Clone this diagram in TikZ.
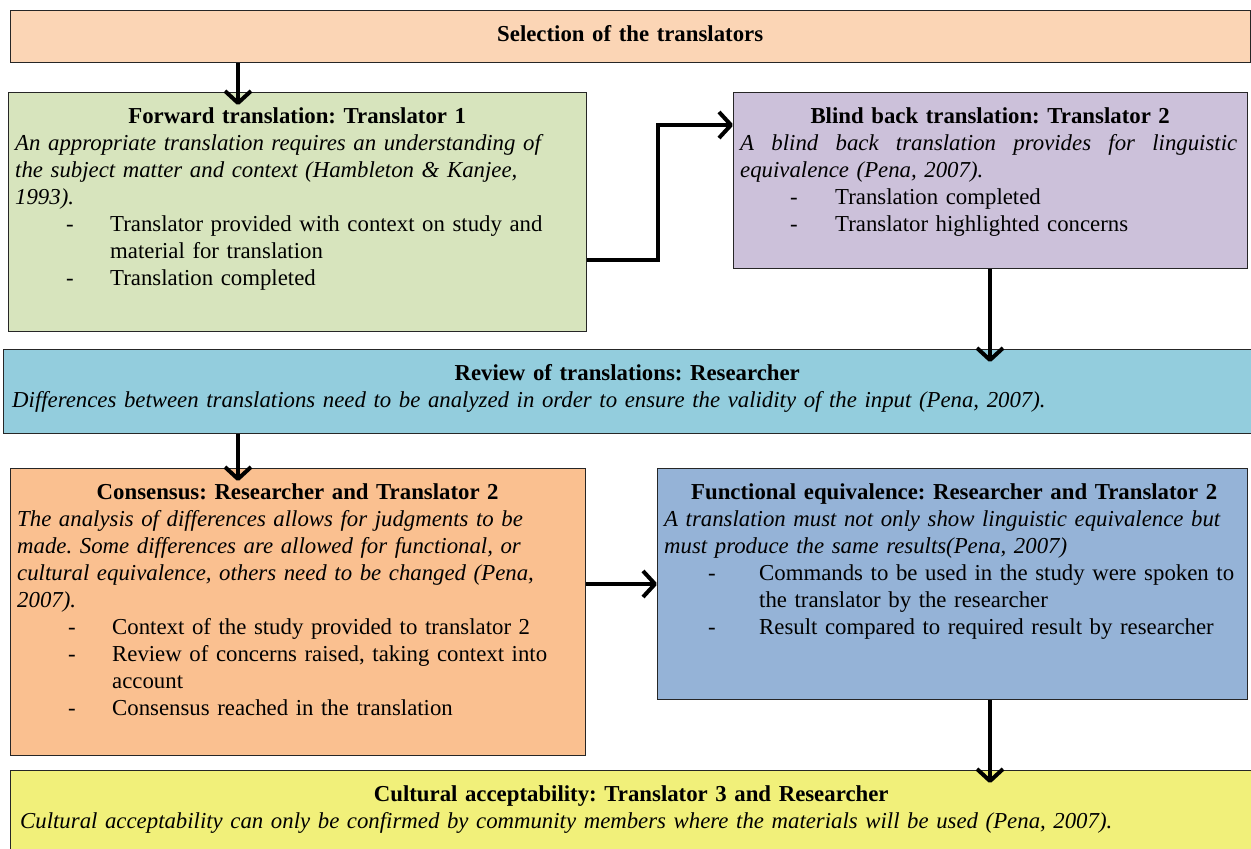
\documentclass[tikz,border=0pt]{standalone}
\usepackage{fontspec}
\setmainfont{Liberation Serif}
\usetikzlibrary{arrows.meta,calc}
\frenchspacing

\definecolor{selfill}{HTML}{FBD5B5}
\definecolor{fwdfill}{HTML}{D7E4BD}
\definecolor{blindfill}{HTML}{CCC1DA}
\definecolor{revfill}{HTML}{93CDDD}
\definecolor{consfill}{HTML}{FAC090}
\definecolor{funcfill}{HTML}{95B3D7}
\definecolor{cultfill}{HTML}{F1F07A}

% a list entry: dash, then text with a hanging indent
\newcommand\dashitem[2][51pt]{\par\hangindent=95pt\hangafter=1\noindent
  \hspace*{#1}\makebox[\dimexpr95pt-#1\relax][l]{-}#2}
\newcommand\boxtitle[1]{\centering\bfseries\strut #1\par\mdseries}
% a line whose word spaces stretch to the given width
\newcommand\fullline[2]{\hbox to #1{\spaceskip=0.25em plus 1fil\relax #2}}

\tikzset{
  box/.style={draw=black!85, line width=1.2pt, anchor=north west, inner sep=0pt},
  txt/.style={anchor=north west, inner sep=0pt,
    font=\fontsize{22.8}{27}\selectfont,
    execute at begin node={\parindent=0pt\parskip=0pt\frenchspacing\relax}},
  arr/.style={line width=4pt, -{Straight Barb[length=12pt,width=26pt,line join=round]}},
  dip/.style={shorten >=-13pt}
}

\begin{document}
\begin{tikzpicture}[x=1pt,y=-1pt]
\useasboundingbox (0,0) rectangle (1251,849);
\clip (0,0) rectangle (1251,849);

% boxes
\node[box, fill=selfill,  minimum width=1240pt, minimum height=52pt]  (sel)  at (10,10)  {};
\node[box, fill=fwdfill,  minimum width=578pt,  minimum height=239pt] (fwd)  at (8,92)   {};
\node[box, fill=blindfill,minimum width=514pt,  minimum height=176pt] (blind) at (733,92) {};
\node[box, fill=revfill,  minimum width=1248pt, minimum height=84pt]  (rev)  at (3,349)  {};
\node[box, fill=consfill, minimum width=575pt,  minimum height=287pt] (cons) at (10,468) {};
\node[box, fill=funcfill, minimum width=590pt,  minimum height=231pt] (func) at (657,468) {};
\node[box, fill=cultfill, minimum width=1260pt, minimum height=100pt] (cult) at (10,770) {};

% texts
\node[txt, text width=1220pt] (seltxt) at ($(sel.north west)+(10,12)$)
  {\boxtitle{Selection of the translators}};

\node[txt, text width=564pt] (fwdtxt) at ($(fwd.north west)+(7,12)$)
  {\boxtitle{Forward translation: Translator 1}
   \raggedright\itshape An appropriate translation requires an understanding of\newline
   the subject matter and context (Hambleton \& Kanjee,\newline 1993).\par\upshape
   \dashitem{Translator provided with context on study and\newline material for translation}
   \dashitem{Translation completed}};

\node[txt, text width=500pt] (blindtxt) at ($(blind.north west)+(7,12)$)
  {\boxtitle{Blind back translation: Translator 2}
   \raggedright\itshape
   \noindent\fullline{497pt}{A blind back translation provides for linguistic}\newline
   equivalence (Pena, 2007).\par\upshape
   \dashitem[50pt]{Translation completed}
   \dashitem[50pt]{Translator highlighted concerns}};

\node[txt, text width=1230pt] (revtxt) at ($(rev.north west)+(9,12)$)
  {\boxtitle{Review of translations: Researcher}
   \raggedright\itshape Differences between translations need to be analyzed in order to ensure the validity of the input (Pena, 2007).};

\node[txt, text width=561pt] (constxt) at ($(cons.north west)+(7,12)$)
  {\boxtitle{Consensus: Researcher and Translator 2}
   \raggedright\itshape The analysis of differences allows for judgments to be\newline
   made. Some differences are allowed for functional, or\newline
   cultural equivalence, others need to be changed (Pena,\newline 2007).\par\upshape
   \dashitem{Context of the study provided to translator 2}
   \dashitem{Review of concerns raised, taking context into\newline account}
   \dashitem{Consensus reached in the translation}};

\node[txt, text width=580pt] (functxt) at ($(func.north west)+(7,12)$)
  {\boxtitle{Functional equivalence: Researcher and Translator 2}
   \raggedright\itshape A translation must not only show linguistic equivalence but\newline
   must produce the same results(Pena, 2007)\par\upshape
   \dashitem[44pt]{Commands to be used in the study were spoken to\newline the translator by the researcher}
   \dashitem[44pt]{Result compared to required result by researcher}};

\node[txt, text width=1230pt] (culttxt) at ($(cult.north west)+(10,12)$)
  {\boxtitle{\hspace*{-8pt}Cultural acceptability: Translator 3 and Researcher}
   \raggedright\itshape Cultural acceptability can only be confirmed by community members where the materials will be used (Pena, 2007).};

% connectors
\coordinate (leftx)  at (238,0);
\coordinate (rightx) at (990,0);
\coordinate (elbowx) at (658,0);
\coordinate (lowy)   at (0,260);
\coordinate (highy)  at (0,125);
\coordinate (midy)   at (0,584);

\draw[arr, dip] (sel.south -| leftx) -- (fwd.north -| leftx);
\draw[arr] (fwd.east |- lowy) -- (elbowx |- lowy) -- (elbowx |- highy) -- (blind.west |- highy);
\draw[arr, dip] (blind.south -| rightx) -- (rev.north -| rightx);
\draw[arr, dip] (rev.south -| leftx) -- (cons.north -| leftx);
\draw[arr] (cons.east |- midy) -- (func.west |- midy);
\draw[arr, dip] (func.south -| rightx) -- (cult.north -| rightx);
\end{tikzpicture}
\end{document}
